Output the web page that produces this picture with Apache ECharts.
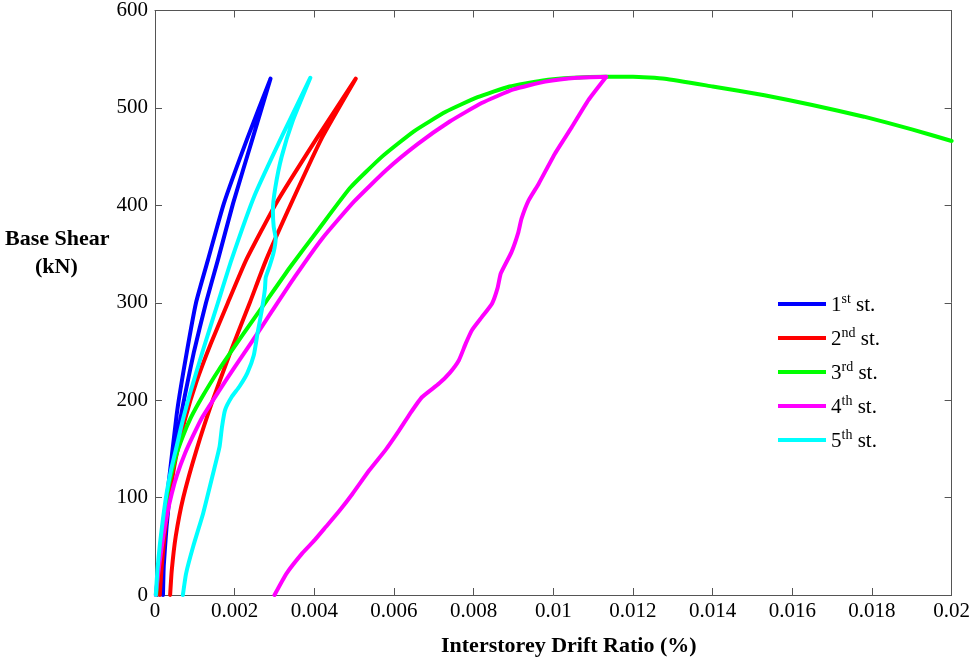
<!DOCTYPE html>
<html>
<head>
<meta charset="utf-8">
<title>Base shear vs interstorey drift ratio</title>
<script src="https://cdn.jsdelivr.net/npm/echarts@6/dist/echarts.min.js"></script>
<style>
  html, body { margin: 0; padding: 0; background: #fff; }
  #chart { width: 973px; height: 659px; }
</style>
</head>
<body>
<div id="chart"></div>
<script>
// Interstorey drift ratio (x) and base shear in kN (y) for each storey.
// Each storey: loading branch up to the peak, then the return branch.
const storey1Drift = [0.00005, 0.0001, 0.00017, 0.00027, 0.0004, 0.00056, 0.00078, 0.00103, 0.00133, 0.00173, 0.00233, 0.0029,
                      0.00246, 0.00196, 0.00158, 0.00128, 0.00098, 0.00075, 0.00055, 0.0004, 0.00029, 0.00022, 0.0002];
const storey1Shear = [0, 25, 55, 90, 135, 190, 245, 300, 344, 402, 470, 530,
                      470, 402, 344, 300, 250, 205, 160, 115, 70, 30, 0];

const storey2Drift = [0.00012, 0.00017, 0.00025, 0.00036, 0.00052, 0.00075, 0.00105, 0.0014, 0.00183, 0.00229, 0.00304, 0.00408, 0.00504,
                      0.0042, 0.00342, 0.00279, 0.00238, 0.0019, 0.00145, 0.00105, 0.00071, 0.00052, 0.00042, 0.00038];
const storey2Shear = [0, 30, 65, 100, 140, 180, 220, 258, 300, 344, 402, 470, 530,
                      470, 402, 344, 300, 250, 200, 150, 100, 60, 25, 0];

const storey3Drift = [0.00003, 0.00008, 0.00015, 0.00024, 0.00036, 0.00052, 0.0007, 0.0009, 0.00118, 0.0016, 0.0022,
                      0.0028, 0.0034, 0.0041, 0.0049, 0.0057, 0.0065, 0.0073, 0.0081, 0.0089, 0.0097, 0.0105,
                      0.0113, 0.012, 0.0128, 0.014, 0.0153, 0.0165, 0.0178, 0.019, 0.02];
const storey3Shear = [0, 25, 55, 85, 115, 142, 163, 182, 203, 231, 267,
                      302, 337, 375, 418, 450, 476, 496, 511, 522, 528, 531,
                      532, 532, 530, 522, 513, 503, 491, 478, 466];

const storey4Drift = [0.00002, 0.00006, 0.00012, 0.0002, 0.0003, 0.00042, 0.00056, 0.00075, 0.00095, 0.00118, 0.0016,
                      0.002, 0.0024, 0.0029, 0.0035, 0.0042, 0.005, 0.0058, 0.0066, 0.0074, 0.0082, 0.009, 0.0098, 0.0106, 0.01133,
                      0.01088, 0.01046, 0.01004, 0.00963, 0.00938, 0.0092, 0.00912, 0.00895, 0.00868, 0.0086, 0.00846,
                      0.0082, 0.00796, 0.0078, 0.00763, 0.0074, 0.00713, 0.0067, 0.0064, 0.00613, 0.00579, 0.00538,
                      0.00496, 0.00462, 0.00429, 0.004, 0.0037, 0.0033, 0.003];
const storey4Shear = [0, 15, 35, 58, 82, 104, 124, 145, 163, 182, 209,
                      234, 258, 289, 326, 366, 404, 436, 463, 486, 505, 519, 527, 531, 532,
                      508, 480, 453, 422, 405, 386, 372, 352, 330, 315, 299,
                      285, 272, 258, 241, 228, 217, 203, 186, 169, 149, 128,
                      104, 86, 70, 56, 43, 22, 0];

const storey5Drift = [0.00002, 0.00006, 0.000125, 0.0002, 0.00029, 0.0004, 0.00054, 0.0007, 0.0009, 0.00121, 0.00158, 0.00192,
                      0.0025, 0.0032, 0.0039,
                      0.00346, 0.00318, 0.00302, 0.00296, 0.00298, 0.00303, 0.00298, 0.00288, 0.00278, 0.00276, 0.00268,
                      0.00258, 0.00248, 0.00232, 0.00212, 0.00192, 0.00176, 0.00168, 0.00162, 0.00146, 0.00121, 0.00096,
                      0.00078, 0.0007];
const storey5Shear = [0, 25, 53, 78, 104, 128, 152, 180, 210, 252, 300, 344,
                      410, 472, 531,
                      487, 450, 418, 395, 378, 366, 352, 338, 326, 314, 292,
                      270, 246, 228, 214, 203, 190, 172, 152, 125, 84, 50,
                      22, 0];

const seriesNames = ['1st st.', '2nd st.', '3rd st.', '4th st.', '5th st.'];
const seriesColors = ['#0000ff', '#ff0000', '#00ff00', '#ff00ff', '#00ffff'];
const driftTicks = { min: 0, max: 0.02, interval: 0.002 };
const shearTicks = { min: 0, max: 600, interval: 100 };

const drifts = [storey1Drift, storey2Drift, storey3Drift, storey4Drift, storey5Drift];
const shears = [storey1Shear, storey2Shear, storey3Shear, storey4Shear, storey5Shear];

const SERIF = '"Liberation Serif", "DejaVu Serif", serif';
const AXIS_COLOR = '#555555';

function pairUp(xs, ys) {
  return xs.map((x, i) => [x, ys[i]]);
}

// Legend labels with superscript ordinal suffixes
const legendRich = {
  n: { fontFamily: SERIF, fontSize: 21, color: '#000', lineHeight: 24, verticalAlign: 'bottom' },
  s: { fontFamily: SERIF, fontSize: 14, color: '#000', lineHeight: 24, verticalAlign: 'top' }
};
function legendLabel(name) {
  const m = name.match(/^(\d)(st|nd|rd|th)(.*)$/);
  return '{n|' + m[1] + '}{s|' + m[2] + '}{n|' + m[3] + '}';
}

// Frame axes on the top and right: ticks only, no labels
function sideAxis(position, ticks) {
  return {
    type: 'value',
    position: position,
    min: ticks.min, max: ticks.max, interval: ticks.interval,
    axisLine: { show: true, onZero: false, lineStyle: { color: AXIS_COLOR, width: 1 } },
    axisTick: { show: true, inside: true, length: 7, lineStyle: { color: AXIS_COLOR } },
    axisLabel: { show: false },
    splitLine: { show: false }
  };
}

const chart = echarts.init(document.getElementById('chart'), null, { renderer: 'canvas' });

chart.setOption({
  animation: false,
  backgroundColor: '#ffffff',
  grid: { left: 155, right: 18, top: 10, bottom: 64, containLabel: false },
  xAxis: [
    {
      type: 'value',
      position: 'bottom',
      min: driftTicks.min, max: driftTicks.max, interval: driftTicks.interval,
      axisLine: { show: true, onZero: false, lineStyle: { color: AXIS_COLOR, width: 1 } },
      axisTick: { show: true, inside: true, length: 7, lineStyle: { color: AXIS_COLOR } },
      axisLabel: {
        margin: 6, color: '#000', fontFamily: SERIF, fontSize: 21,
        formatter: v => String(+v.toFixed(3))
      },
      splitLine: { show: false }
    },
    sideAxis('top', driftTicks)
  ],
  yAxis: [
    {
      type: 'value',
      position: 'left',
      min: shearTicks.min, max: shearTicks.max, interval: shearTicks.interval,
      axisLine: { show: true, onZero: false, lineStyle: { color: AXIS_COLOR, width: 1 } },
      axisTick: { show: true, inside: true, length: 7, lineStyle: { color: AXIS_COLOR } },
      axisLabel: { margin: 7, color: '#000', fontFamily: SERIF, fontSize: 21 },
      splitLine: { show: false }
    },
    sideAxis('right', shearTicks)
  ],
  legend: {
    orient: 'vertical',
    left: 773,
    top: 287,
    itemWidth: 48,
    itemHeight: 4,
    itemGap: 10,
    icon: 'rect',
    data: seriesNames,
    formatter: legendLabel,
    textStyle: { fontFamily: SERIF, fontSize: 21, color: '#000', rich: legendRich }
  },
  graphic: [
    {
      type: 'text', left: 5, top: 228,
      style: { text: 'Base Shear', font: 'bold 22px ' + SERIF, fill: '#000' }
    },
    {
      type: 'text', left: 35, top: 256,
      style: { text: '(kN)', font: 'bold 22px ' + SERIF, fill: '#000' }
    },
    {
      type: 'text', left: 441, top: 635,
      style: { text: 'Interstorey Drift Ratio (%)', font: 'bold 22px ' + SERIF, fill: '#000' }
    }
  ],
  series: seriesNames.map((name, i) => ({
    name: name,
    type: 'line',
    xAxisIndex: 0,
    yAxisIndex: 0,
    data: pairUp(drifts[i], shears[i]),
    showSymbol: false,
    smooth: 0.15,
    clip: true,
    color: seriesColors[i],
    lineStyle: { width: 4, color: seriesColors[i], cap: 'round', join: 'round' }
  }))
});
</script>
</body>
</html>
